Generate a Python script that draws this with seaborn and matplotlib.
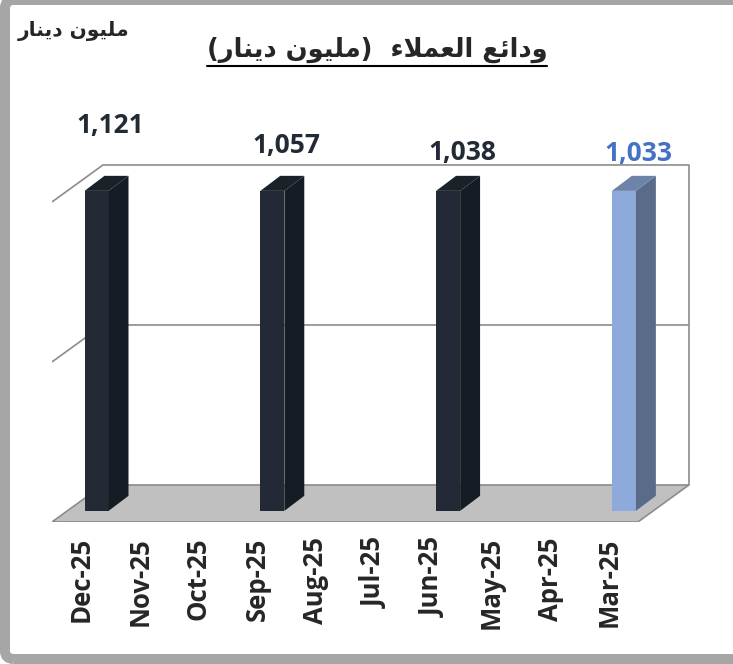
import numpy as np
import pandas as pd
import seaborn as sns
import matplotlib.pyplot as plt
from matplotlib.patches import Polygon, FancyBboxPatch
from matplotlib.lines import Line2D

# data (million dinar)
months = ["Dec-25", "Nov-25", "Oct-25", "Sep-25", "Aug-25",
          "Jul-25", "Jun-25", "May-25", "Apr-25", "Mar-25"]
deposits = [1121, np.nan, np.nan, 1057, np.nan, np.nan, 1038, np.nan, np.nan, 1033]
label_text = ["1,121", "", "", "1,057", "", "", "1,038", "", "", "1,033"]
axis_max = 1000   # value axis stops here, every bar is cut at the top
grid_step = 500

# arabic text written with presentation forms, visual (left to right) order
w_wadai = "\uFECA\uFE8B\uFE8D\uFEA9\uFEED"          # ودائع
w_umala = "\uFE80\uFEFC\uFEE4\uFECC\uFEDF\uFE8D"    # العملاء
w_milyun = "\uFEE5\uFEEE\uFEF4\uFEE0\uFEE3"          # مليون
w_dinar = "\uFEAD\uFE8E\uFEE8\uFEF3\uFEA9"           # دينار
title_txt = "(" + w_dinar + " " + w_milyun + ")  " + w_umala + " " + w_wadai
unit_txt = w_dinar + " " + w_milyun

dark = "#232a35"
blue = "#8eaadb"
side_col = {dark: "#161c24", blue: "#5a6b8a"}
top_col = {dark: "#1b2129", blue: "#6d83a8"}
label_col = {dark: "#222a35", blue: "#4472c4"}
colors = [dark] * 9 + [blue]

sns.set_style("white")
plt.rcParams["font.family"] = ["Open Sans", "DejaVu Sans"]

fig = plt.figure(figsize=(7.33, 6.64), dpi=100)
ax = fig.add_axes([0.0709, 0.2139, 0.929, 0.6506])
ax.set_facecolor("none")

# oblique depth of the floor / walls in data units
dx, dy = 0.87, 115.6
# bar placement inside the depth and bar depth
off = 0.3
bdx, bdy = 0.34, 47

n = len(months)
df = pd.DataFrame({"month": months, "value": np.minimum(deposits, axis_max)})
sns.barplot(data=df, x="month", y="value", hue="month", order=months,
            palette=dict(zip(months, colors)), legend=False, width=0.41,
            saturation=1, errorbar=None, ax=ax, linewidth=0, zorder=3)

# floor
x_l, x_r = -0.5, n - 0.5
floor = Polygon([(x_l, 0), (x_r, 0), (x_r + dx, dy), (x_l + dx, dy)],
                closed=True, facecolor="#c0c0c0", edgecolor="#8c8c8c",
                lw=1.2, zorder=1)
ax.add_patch(floor)

# back wall: top edge, gridline and right edge
wall = "#8c8c8c"
for g in np.arange(grid_step, axis_max + 1, grid_step):
    ax.plot([x_l, x_l + dx, x_r + dx], [g, g + dy, g + dy], color=wall,
            lw=1.2, zorder=1, solid_capstyle="butt")
ax.plot([x_r + dx, x_r + dx], [dy, axis_max + dy], color=wall, lw=1.2, zorder=1)

# 3d look for the bars
for p in list(ax.patches):
    if not isinstance(p, plt.Rectangle):
        continue
    h = p.get_height()
    if not np.isfinite(h) or h <= 0:
        continue
    fc = dark if p.get_facecolor()[2] < 0.5 else blue
    p.set_x(p.get_x() + off * dx)
    p.set_y(off * dy)
    x0, x1 = p.get_x(), p.get_x() + p.get_width()
    y0, y1 = p.get_y(), p.get_y() + h
    ax.add_patch(Polygon([(x1, y0), (x1 + bdx, y0 + bdy), (x1 + bdx, y1 + bdy), (x1, y1)],
                         closed=True, facecolor=side_col[fc], lw=0, zorder=3))
    ax.add_patch(Polygon([(x0, y1), (x1, y1), (x1 + bdx, y1 + bdy), (x0 + bdx, y1 + bdy)],
                         closed=True, facecolor=top_col[fc], lw=0, zorder=3))

# value labels
for i, (v, t) in enumerate(zip(deposits, label_text)):
    if np.isnan(v):
        continue
    ax.text(i + 0.5, v + 118, t, ha="center", va="center", fontsize=19,
            fontweight="bold", color=label_col[colors[i]], zorder=4)

ax.set_xlim(x_l, x_l + 681 / 58.6)
ax.set_ylim(0, 1350)
for s in ax.spines.values():
    s.set_visible(False)
ax.set_yticks([])
ax.set_xticks(range(n))
ax.set_xticklabels(months, rotation=90, fontsize=18.5, fontweight="bold")
ax.set_xticks(np.arange(n + 1) - 0.5, minor=True)
ax.tick_params(axis="x", which="major", length=0, pad=11)
ax.tick_params(axis="x", which="minor", length=8, width=1.2, color=wall)
ax.set_xlabel("")
ax.set_ylabel("")

# titles
t = fig.text(377 / 733, 1 - 50 / 664, title_txt, ha="center", va="center",
             fontsize=18.5, fontweight="bold", family=["DejaVu Sans"])
fig.text(74 / 733, 1 - 31 / 664, unit_txt, ha="center", va="center",
         fontsize=14.5, fontweight="bold", family=["DejaVu Sans"])

fig.canvas.draw()
bb = t.get_window_extent().transformed(fig.transFigure.inverted())
fig.add_artist(Line2D([bb.x0, bb.x1], [bb.y0 - 0.004, bb.y0 - 0.004],
                      color="black", lw=1.5))

# outer frame (right side runs off the picture, top edge half cut)
frame = FancyBboxPatch((5 / 733, 5 / 664), 1.3, 1 - 5 / 664,
                       boxstyle="round,pad=0,rounding_size=0.012",
                       transform=fig.transFigure, facecolor="none",
                       edgecolor="#a6a6a6", lw=7.2)
fig.add_artist(frame)

fig.savefig("out.png", dpi=100)
